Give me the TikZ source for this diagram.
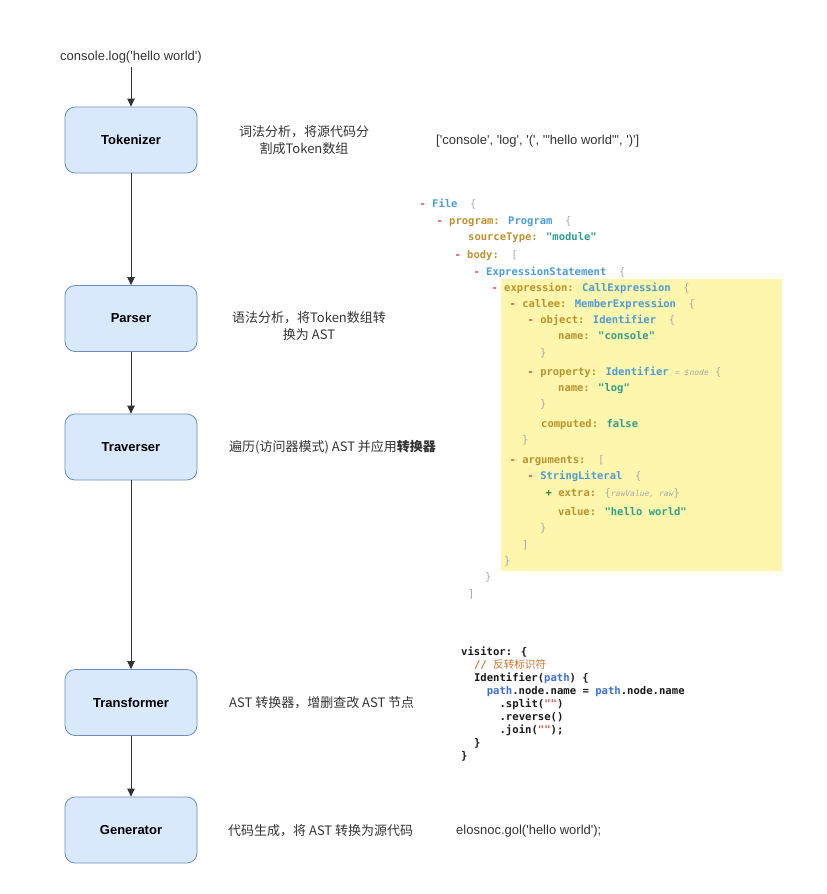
\documentclass[tikz,border=0pt]{standalone}
\usepackage{fontspec}
\setmainfont{Liberation Sans}[Ligatures=TeXOff]
\newfontfamily\cjk{Noto Sans CJK SC}
\newfontfamily\codefont{DejaVu Sans Mono}[Ligatures=TeXOff,
  ItalicFont={DejaVu Sans Mono Oblique}, BoldFont={DejaVu Sans Mono Bold},
  BoldItalicFont={DejaVu Sans Mono Bold Oblique}]
\usetikzlibrary{arrows.meta,positioning}

\definecolor{stagefill}{HTML}{DAE8FC}
\definecolor{stageline}{HTML}{6C8EBF}
\definecolor{txtgray}{HTML}{333333}
\definecolor{hilite}{HTML}{FFF6AD}
\definecolor{keyc}{HTML}{B8922F}
\definecolor{typec}{HTML}{4A9BD6}
\definecolor{strc}{HTML}{2E9E8A}
\definecolor{punc}{HTML}{A8A8A8}
\definecolor{minc}{HTML}{E5483E}
\definecolor{plusc}{HTML}{2E8B2E}
\definecolor{pathc}{HTML}{3B6FD8}
\definecolor{cmtc}{HTML}{C8702A}
\definecolor{quotec}{HTML}{D9534F}

\newcommand\akey[1]{\textcolor{keyc}{#1}}
\newcommand\atype[1]{\textcolor{typec}{#1}}
\newcommand\astr[1]{\textcolor{strc}{#1}}
\newcommand\apun[1]{\textcolor{punc}{\mdseries #1}}
\newcommand\amin[1]{\textcolor{minc}{#1}}
\newcommand\aplus[1]{\textcolor{plusc}{#1}}
\newcommand\anote[1]{{\fontsize{8}{10}\selectfont\mdseries\itshape\textcolor{punc}{#1}}}
\newcommand\apath{\textcolor{pathc}{path}}
\newcommand\aquote{\textcolor{quotec}{""}}

\begin{document}
\begin{tikzpicture}[
  x=1pt, y=-1pt,
  stage/.style={draw=stageline, fill=stagefill, rounded corners=10pt, line width=0.8pt,
    minimum width=132pt, minimum height=66pt,
    font=\bfseries\fontsize{13}{15}\selectfont},
  flow/.style={-{Triangle[length=8pt,width=7.5pt]}, draw=txtgray, line width=0.9pt},
  desc/.style={text=txtgray, inner sep=0pt, font=\cjk\fontsize{13}{17}\selectfont},
  plain/.style={text=txtgray, inner sep=0pt, anchor=west, font=\fontsize{13}{15}\selectfont},
  astline/.style={anchor=mid west, inner sep=0pt, font=\codefont\bfseries\fontsize{10.5}{12}\selectfont},
  visit/.style={anchor=north west, inner sep=0pt, align=left, text=black!90,
    font=\codefont\bfseries\fontsize{10.6}{13}\selectfont}
]
\useasboundingbox (0,0) rectangle (827,894);

% pipeline
\node[text=txtgray, font=\fontsize{13}{15}\selectfont] (src) at (131,57) {console.log('hello world')};
\node[stage] (tok) at (131,140) {Tokenizer};
\node[stage] (par) at (131,318.5) {Parser};
\node[stage] (trav) at (131,447) {Traverser};
\node[stage] (trans) at (131,702.5) {Transformer};
\node[stage] (gen) at (131,830) {Generator};

\draw[flow] (src) -- (tok);
\draw[flow] (tok) -- (par);
\draw[flow] (par) -- (trav);
\draw[flow] (trav) -- (trans);
\draw[flow] (trans) -- (gen);

% descriptions
\node[desc, align=center] (tokdesc) at (304,140) {词法分析，将源代码分\\割成Token数组};
\node[desc, align=center] (pardesc) at (309,326) {语法分析，将Token数组转\\换为 AST};
\node[desc, anchor=west] (travdesc) at (229,447) {遍历(访问器模式) AST 并应用{\bfseries 转换器}};
\node[desc, anchor=west] (transdesc) at (229,703) {AST 转换器，增删查改 AST 节点};
\node[desc, anchor=west] (gendesc) at (228,831) {代码生成，将 AST 转换为源代码};

% results
\node[plain] (tokens) at (436,141) {['console', 'log', '(', '"hello world"', ')']};
\node[plain] (out) at (456,831) {elosnoc.gol('hello world');};

% ast
\fill[hilite] (501,279) rectangle (782,571);
\node[astline] (a1) at (419.4,205) {\amin{-} \atype{File}\ \ \apun{\{}};
\node[astline] (a2) at (436.4,222) {\amin{-} \akey{program:} \atype{Program}\ \ \apun{\{}};
\node[astline] (a3) at (468,238) {\akey{sourceType:} \astr{"module"}};
\node[astline] (a4) at (454.4,256) {\amin{-} \akey{body:}\ \ \apun{[}};
\node[astline] (a5) at (473.4,273) {\amin{-} \atype{ExpressionStatement}\ \ \apun{\{}};
\node[astline] (a6) at (491.4,289) {\amin{-} \akey{expression:} \atype{CallExpression}\ \ \apun{\{}};
\node[astline] (a7) at (509.4,305) {\amin{-} \akey{callee:} \atype{MemberExpression}\ \ \apun{\{}};
\node[astline] (a8) at (527.4,321) {\amin{-} \akey{object:} \atype{Identifier}\ \ \apun{\{}};
\node[astline] (a9) at (558,337) {\akey{name:} \astr{"console"}};
\node[astline] (a10) at (540,354) {\apun{\}}};
\node[astline] (a11) at (527.4,373) {\amin{-} \akey{property:} \atype{Identifier} \anote{= \$node} \apun{\{}};
\node[astline] (a12) at (558,389) {\akey{name:} \astr{"log"}};
\node[astline] (a13) at (540,405) {\apun{\}}};
\node[astline] (a14) at (541,425) {\akey{computed:} \astr{false}};
\node[astline] (a15) at (522,441) {\apun{\}}};
\node[astline] (a16) at (509.4,461) {\amin{-} \akey{arguments:}\ \ \apun{[}};
\node[astline] (a17) at (527.4,477) {\amin{-} \atype{StringLiteral}\ \ \apun{\{}};
\node[astline] (a18) at (545.4,494) {\aplus{+} \akey{extra:} \apun{\{}\anote{rawValue, raw}\apun{\}}};
\node[astline] (a19) at (558,513) {\akey{value:} \astr{"hello world"}};
\node[astline] (a20) at (540,529) {\apun{\}}};
\node[astline] (a21) at (522,546) {\apun{]}};
\node[astline] (a22) at (504,562) {\apun{\}}};
\node[astline] (a23) at (485,578) {\apun{\}}};
\node[astline] (a24) at (468,595) {\apun{]}};

% visitor
\node[visit] (vis) at (461,647) {visitor: \{\\
\hspace*{12.8pt}\textcolor{cmtc}{// {\cjk\mdseries 反转标识符}}\\
\hspace*{12.8pt}Identifier(\apath) \{\\
\hspace*{25.6pt}\apath.node.name = \apath.node.name\\
\hspace*{38.4pt}.split(\aquote)\\
\hspace*{38.4pt}.reverse()\\
\hspace*{38.4pt}.join(\aquote);\\
\hspace*{12.8pt}\}\\
\}};
\end{tikzpicture}
\end{document}
